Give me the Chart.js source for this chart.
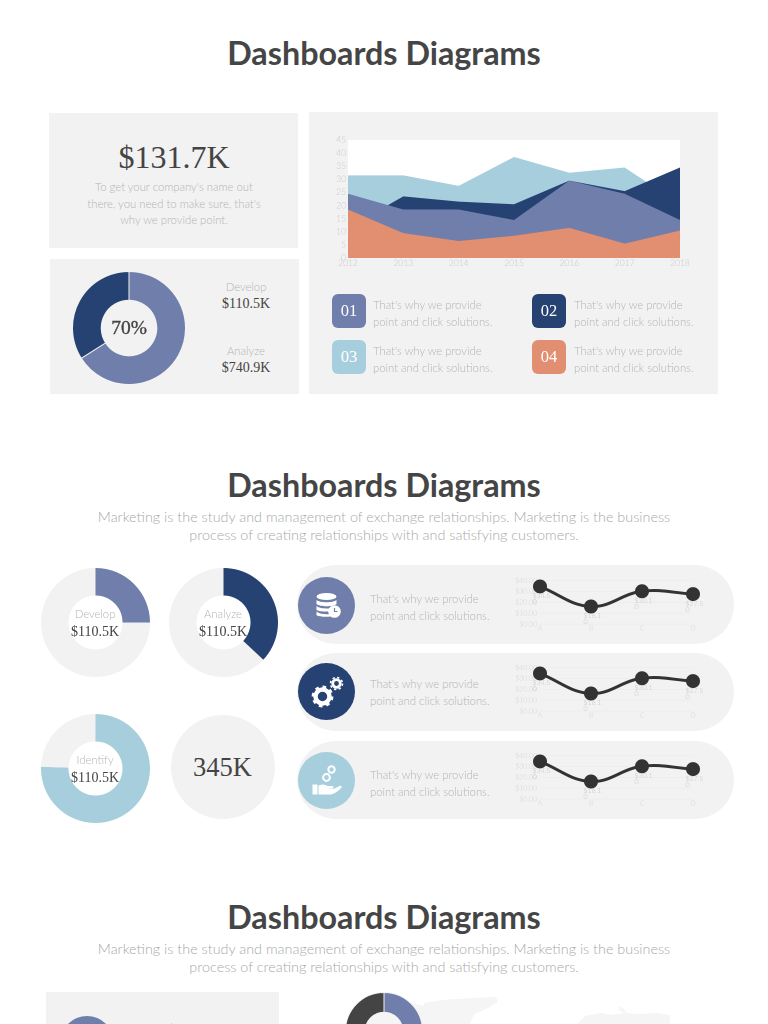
<!DOCTYPE html>
<html><head><meta charset="utf-8">
<script src="https://cdn.jsdelivr.net/npm/chart.js@4/dist/chart.umd.min.js"></script>
<style>
html,body{margin:0;padding:0;background:#fff;width:768px;height:1024px;overflow:hidden}
#page{position:relative;width:768px;height:1024px;overflow:hidden;font-family:Lato,sans-serif}
.box,.t,canvas,svg{position:absolute}
.t{white-space:nowrap;transform:translate(-50%,-50%);line-height:1}
.l{transform:translate(0,-50%)}
.h{font-weight:700;font-size:32.3px;color:#454545;left:384px}
.s{font-weight:300;font-size:14.4px;color:#a9a9a9;left:384px}
.b{font-weight:300;font-size:11.3px;color:#b4b4b4}
.m{font-family:"Liberation Serif",serif;color:#444}
.n{font-family:"Liberation Serif",serif;font-size:16.5px;color:#fff}
.p{background:#f2f2f2}
</style></head><body><div id="page"></div>
<script>
const years=['2012','2013','2014','2015','2016','2017','2018'];
const areaLightBlue=[31.5,31.5,27.5,38.5,32.5,34.5,20.5];
const areaNavy=[11.5,23.5,21.5,20.5,29.5,25.5,34.5];
const areaPeriwinkle=[24.5,18.5,18.5,14.5,29.5,24.5,14.5];
const areaOrange=[18.5,9.5,6.5,8.5,11.5,5.5,10.5];
const areaTicks=[0,5,10,15,20,25,30,35,40,45];
const lineCats=['A','B','C','D'];
const lineValues=[34.5,16.1,30.1,27.5];
const lineTicks=[0,10,20,30,40];
const mainDonut=[66,34];
const developDonut=[25,75];
const analyzeDonut=[37,63];
const identifyDonut=[75.5,24.5];
const lowerDonut=[50,50];

const C={peri:'#707EAB',navy:'#264272',blue:'#A6CEDC',orange:'#E28E70',grey:'#F2F2F2',dark:'#444444'};
const page=document.getElementById('page');
function box(x,y,w,h,c,r){const d=document.createElement('div');d.className='box';
 d.style.cssText=`left:${x}px;top:${y}px;width:${w}px;height:${h}px;background:${c};border-radius:${r||0}px`;page.appendChild(d);return d}
function txt(s,x,y,cls,css){const d=document.createElement('div');d.className='t '+cls;d.textContent=s;
 d.style.cssText=`left:${x}px;top:${y}px;`+(css||'');page.appendChild(d);return d}
function cv(x,y,w,h){const c=document.createElement('canvas');c.width=w;c.height=h;
 c.style.cssText=`left:${x}px;top:${y}px;width:${w}px;height:${h}px`;page.appendChild(c);return c}
Chart.defaults.animation=false;
Chart.defaults.responsive=false;
Chart.defaults.devicePixelRatio=2;

// headings
[[53,null],[485,1],[917,1]].forEach(([y,sub])=>{
 txt('Dashboards Diagrams',384,y,'h');
 if(sub){txt('Marketing is the study and management of exchange relationships. Marketing is the business',384,y+32,'s');
  txt('process of creating relationships with and satisfying customers.',384,y+50,'s');}
});

// top panels
box(49,113,249,135,C.grey);box(50,259,249,135,C.grey);box(309,112,409,282,C.grey);
txt('$131.7K',174,157,'m','font-size:32px');
txt("To get your company's name out",174,187,'b');
txt("there, you need to make sure, that's",174,203.5,'b');
txt('why we provide point.',174,220,'b');
txt('Develop',246,287,'b');txt('$110.5K',246,304,'m','font-size:14px');
txt('Analyze',246,351,'b');txt('$740.9K',246,367.5,'m','font-size:14px');

function donut(cx,cy,R,r,data,colors,border){
 const c=cv(cx-R,cy-R,2*R,2*R);
 new Chart(c,{type:'doughnut',data:{datasets:[{data,backgroundColor:colors,borderWidth:border?1:0,borderColor:border||'#fff'}]},
  options:{cutout:(r/R*100)+'%',layout:{padding:0},plugins:{legend:{display:false},tooltip:{enabled:false}}}});
}
donut(129,327.5,57,28,mainDonut,[C.peri,C.navy],'#f2f2f2');
txt('70%',129,328,'m','font-size:19.5px;-webkit-text-stroke:.35px #444');

// area chart
const whitePlot={id:'whitePlot',beforeDatasetsDraw(ch){const a=ch.chartArea,x=ch.ctx;x.save();x.fillStyle='#fff';x.fillRect(a.left,a.top,a.right-a.left,a.bottom-a.top);x.restore()}};
function areaSet(d,col){return{data:d,backgroundColor:col,borderWidth:0,pointRadius:0,fill:'origin',tension:0}}
new Chart(cv(318,130,384,145),{type:'line',plugins:[whitePlot],
 data:{labels:years,datasets:[areaSet(areaOrange,C.orange),areaSet(areaPeriwinkle,C.peri),areaSet(areaNavy,C.navy),areaSet(areaLightBlue,C.blue)]},
 options:{layout:{padding:{top:10,right:22,bottom:0,left:0}},
 plugins:{legend:{display:false},tooltip:{enabled:false}},
 scales:{
  x:{grid:{display:false,drawTicks:false},border:{display:false},afterFit(s){s.height=17},
   ticks:{color:'#c8c8c8',font:{family:'Lato',size:8.5,weight:300},padding:0,maxRotation:0,autoSkip:false}},
  y:{min:0,max:45,grid:{display:false,drawTicks:false},border:{display:false},afterFit(s){s.width=30},
   afterBuildTicks(s){s.ticks=areaTicks.map(v=>({value:v}))},
   ticks:{color:'#c8c8c8',font:{family:'Lato',size:8.5,weight:300},padding:2,autoSkip:false}}
 }}});

// legend tiles
[[332,294,C.peri,'01',373],[532,294,C.navy,'02',574],[332,340,C.blue,'03',373],[532,340,C.orange,'04',574]].forEach(([x,y,c,n,tx])=>{
 box(x,y,34,34,c,6);txt(n,x+17,y+17,'n');
 txt("That's why we provide",tx,y+10.5,'b l');txt('point and click solutions.',tx,y+27.5,'b l');
});

// middle donuts
donut(95,622,54.5,27,developDonut,[C.peri,C.grey]);
donut(223,622,54.5,27,analyzeDonut,[C.navy,C.grey]);
donut(95,768,54.5,27,identifyDonut,[C.blue,C.grey]);
box(171,715,104,104,C.grey,52);
txt('345K',222.5,767,'m','font-size:26.5px');
[[95,614,'Develop',632],[223,614,'Analyze',632],[95,760,'Identify',778]].forEach(([x,y,s,y2])=>{
 txt(s,x,y,'b');txt('$110.5K',x,y2,'m','font-size:14px');
});

// pills with line charts
const valueLabels={id:'valueLabels',afterDatasetsDraw(ch){const x=ch.ctx,m=ch.getDatasetMeta(0);x.save();
 x.font='300 7px Lato';x.fillStyle='#c4c4c4';x.textAlign='left';x.textBaseline='middle';
 m.data.forEach((pt,i)=>{const s='$'+lineValues[i].toFixed(2);x.fillText(s.slice(0,-1),pt.x-7.5,pt.y+9.5);x.fillText(s.slice(-1),pt.x-7.5,pt.y+15.5)});x.restore()}};
const icons=[
 '<ellipse cx="0" cy="-9" rx="10" ry="3.6" fill="#fff"/><path d="M-10-5.5c3 3 17 3 20 0v4c-3 3-17 3-20 0zM-10 .5c3 3 15 3 17 1.5l-1 3.6c-5 1-13 .5-16-1.1zM-10 6c3 2.8 10 3 14 2.5l1 2.3c-5 1-12 .5-15-1z" fill="#fff"/><circle cx="8" cy="6" r="6.3" fill="#fff"/><path d="M8 2.5V6h3" stroke="'+C.peri+'" stroke-width="1.2" fill="none"/>',
 '<circle cx="-4" cy="5" r="7" fill="none" stroke="#fff" stroke-width="4.5"/><circle cx="-4" cy="5" r="9.6" fill="none" stroke="#fff" stroke-width="2.6" stroke-dasharray="3.6 3.9"/><circle cx="10" cy="-8" r="3.8" fill="none" stroke="#fff" stroke-width="2.8"/><circle cx="10" cy="-8" r="6" fill="none" stroke="#fff" stroke-width="1.6" stroke-dasharray="2.3 2.4"/>',
 '<rect x="-14" y="4" width="5" height="10" fill="#fff"/><path d="M-8 5c4-2 7-1 9 .5h5c1.500 0 1.500 2.500 0 2.500h-5l6 .5 6-3c2-.8 3 1 1.500 2.200C11 11 7 14 3 14h-11z" fill="#fff"/><circle cx="0" cy="-3" r="3.400" fill="none" stroke="#fff" stroke-width="2"/><circle cx="5" cy="-11" r="3.200" fill="none" stroke="#fff" stroke-width="2"/>'
];
[[565,605,C.peri,599,616,0],[653,691,C.navy,684,701,1],[741,780,C.blue,775,792,2]].forEach(([top,cy,c,t1,t2,i])=>{
 const h=i==0?79:78;
 box(297,top,437,h,C.grey,39);
 box(297.500,cy-28.500,57,57,c,28.500);
 const svg=document.createElementNS('http://www.w3.org/2000/svg','svg');
 svg.setAttribute('width','57');svg.setAttribute('height','57');svg.setAttribute('viewBox','-28.500 -28.500 57 57');
 svg.style.cssText=`left:297.500px;top:${cy-28.500}px`;svg.innerHTML=icons[i];page.appendChild(svg);
 txt("That's why we provide",370,t1,'b l');txt('point and click solutions.',370,t2,'b l');
 const chartTop=[572,659,747][i];
 new Chart(cv(498,chartTop,215,68),{type:'line',plugins:[valueLabels],
  data:{labels:lineCats,datasets:[{data:lineValues,borderColor:'#333333',backgroundColor:'#333333',borderWidth:3,tension:0.4,pointRadius:5.5,clip:false}]},
  options:{layout:{padding:{top:8,right:20,bottom:0,left:0}},plugins:{legend:{display:false},tooltip:{enabled:false}},
  scales:{
   x:{grid:{display:false,drawTicks:false},border:{display:false},afterFit(s){s.height=16},
    ticks:{color:'#d4d4d4',font:{family:'Lato',size:7,weight:300},padding:0,maxRotation:0}},
   y:{min:0,max:40,border:{display:false},grid:{color:'#eaeaea',lineWidth:.5,drawTicks:false},afterFit(s){s.width=42},
    afterBuildTicks(sc){sc.ticks=lineTicks.map(v=>({value:v}))},
    ticks:{color:'#d4d4d4',font:{family:'Lato',size:7,weight:300},padding:3,autoSkip:false,callback:v=>'$'+v.toFixed(2)}}
  }}});
});

// lower section (cut off by the page edge)
box(46,992,233,40,C.grey);
box(60,1016,54,54,C.peri,27);
txt('Develop',165,1027.5,'b');
const map=document.createElementNS('http://www.w3.org/2000/svg','svg');
map.setAttribute('width','768');map.setAttribute('height','1024');map.style.cssText='left:0;top:0';
map.innerHTML='<path d="M362 1012l20-8 25-2 12 3 14 2 5 4-6 5 3 8h-73zM424 1003l18-3 30-2 24-1 2 5-14 8-10 4-4 10h-42l4-8-8-6zM577 1024l8-8 16-3 10 2 6-1 12-1 8 1 20-1 13 2v9zM619 1006l4 2 3 4-2 1-5-3zM626 1012l3 2-1 2-3-2z" fill="#f5f5f5"/>';
page.appendChild(map);
donut(384,1031,39,19,lowerDonut,[C.peri,C.dark],'#f2f2f2');
</script></body></html>
